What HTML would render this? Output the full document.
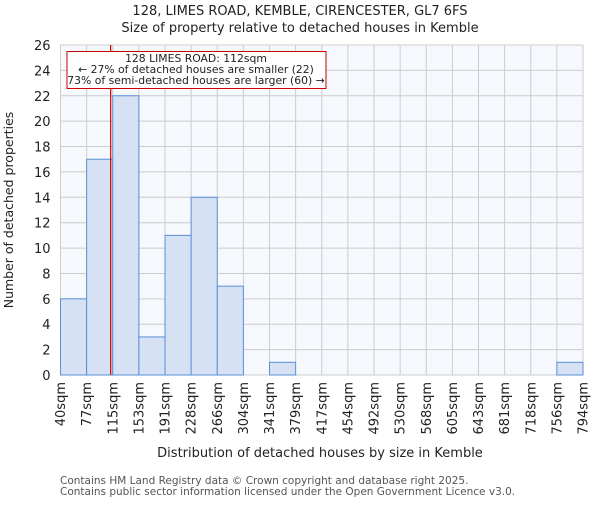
<!DOCTYPE html>
<html><head><meta charset="utf-8"><style>
body{margin:0;background:#fff}
svg{font-family:"DejaVu Sans","Liberation Sans",sans-serif}
</style></head><body>
<svg id="c" width="600" height="500" xmlns="http://www.w3.org/2000/svg"></svg>
<script>
const binLabels=["40sqm","77sqm","115sqm","153sqm","191sqm","228sqm","266sqm","304sqm","341sqm","379sqm","417sqm","454sqm","492sqm","530sqm","568sqm","605sqm","643sqm","681sqm","718sqm","756sqm","794sqm"];
const binEdges=[40,77,115,153,191,228,266,304,341,379,417,454,492,530,568,605,643,681,718,756,794];
const counts=[6,17,22,3,11,14,7,0,1,0,0,0,0,0,0,0,0,0,0,1];
const yTicks=[0,2,4,6,8,10,12,14,16,18,20,22,24,26];
const propertySize=112;
const L=60.5,R=583,T=45,B=375,yMax=26;
const svg=document.getElementById('c');
const NS='http://www.w3.org/2000/svg';
function mk(t,a,name,txt){const e=document.createElementNS(NS,t);for(const k in a)e.setAttribute(k,a[k]);


if(txt!==undefined)e.textContent=txt;svg.appendChild(e);return e;}
const n=counts.length,bw=(R-L)/n;
const xi=i=>L+i*bw;
const y=v=>B-v/yMax*(B-T);
function xv(v){for(let i=0;i<n;i++){if(v>=binEdges[i]&&v<=binEdges[i+1])return xi(i)+(v-binEdges[i])/(binEdges[i+1]-binEdges[i])*bw;}return L;}
mk('text',{x:300,y:15,'text-anchor':'middle','font-size':13,fill:'#222'},'chart-title','128, LIMES ROAD, KEMBLE, CIRENCESTER, GL7 6FS');
mk('text',{x:300,y:32,'text-anchor':'middle','font-size':13,fill:'#222'},'chart-subtitle','Size of property relative to detached houses in Kemble');
mk('rect',{x:L,y:T,width:R-L,height:B-T,fill:'#f5f8fd'},'plot-background');
for(let i=0;i<=n;i++)mk('line',{x1:xi(i),x2:xi(i),y1:T,y2:B,stroke:'#cccccc','stroke-width':1},'x-gridline');
yTicks.forEach(t=>{mk('line',{x1:L,x2:R,y1:y(t),y2:y(t),stroke:'#cccccc','stroke-width':1},'y-gridline');
mk('text',{x:L-10,y:y(t)+5,'text-anchor':'end','font-size':13,fill:'#222'},'y-tick-label',t);});
counts.forEach((c,i)=>{if(c>0)mk('rect',{x:xi(i),y:y(c),width:bw,height:B-y(c),fill:'#d6e2f3',stroke:'#5b8fd6','stroke-width':1},'bar-'+binLabels[i]);});
binLabels.forEach((l,i)=>{const x=xi(i)+4.5;mk('text',{x:x,y:382,'text-anchor':'end','font-size':13,fill:'#222',transform:`rotate(-90 ${x} 382)`},'x-tick-label',l);});
const px=xv(propertySize);
mk('line',{x1:px,x2:px,y1:T,y2:B,stroke:'#cc0000','stroke-width':1.2},'property-marker-line');
mk('rect',{x:67,y:51.5,width:259,height:37,fill:'#fff',stroke:'#cc0000','stroke-width':1},'annotation-box');
mk('text',{x:196,y:62,'text-anchor':'middle','font-size':10.8,fill:'#222'},'annotation-line-1','128 LIMES ROAD: 112sqm');
mk('text',{x:196,y:73,'text-anchor':'middle','font-size':10.8,fill:'#222'},'annotation-line-2','← 27% of detached houses are smaller (22)');
mk('text',{x:196,y:84,'text-anchor':'middle','font-size':10.8,fill:'#222'},'annotation-line-3','73% of semi-detached houses are larger (60) →');
mk('text',{x:13,y:210,'text-anchor':'middle','font-size':12.5,fill:'#222',transform:'rotate(-90 13 210)'},'y-axis-title','Number of detached properties');
mk('text',{x:320,y:457,'text-anchor':'middle','font-size':13,fill:'#222'},'x-axis-title','Distribution of detached houses by size in Kemble');
mk('text',{x:60,y:484,'font-size':10.5,fill:'#555'},'footer-line-1','Contains HM Land Registry data © Crown copyright and database right 2025.');
mk('text',{x:60,y:495,'font-size':10.5,fill:'#555'},'footer-line-2','Contains public sector information licensed under the Open Government Licence v3.0.');
</script>
</body></html>
